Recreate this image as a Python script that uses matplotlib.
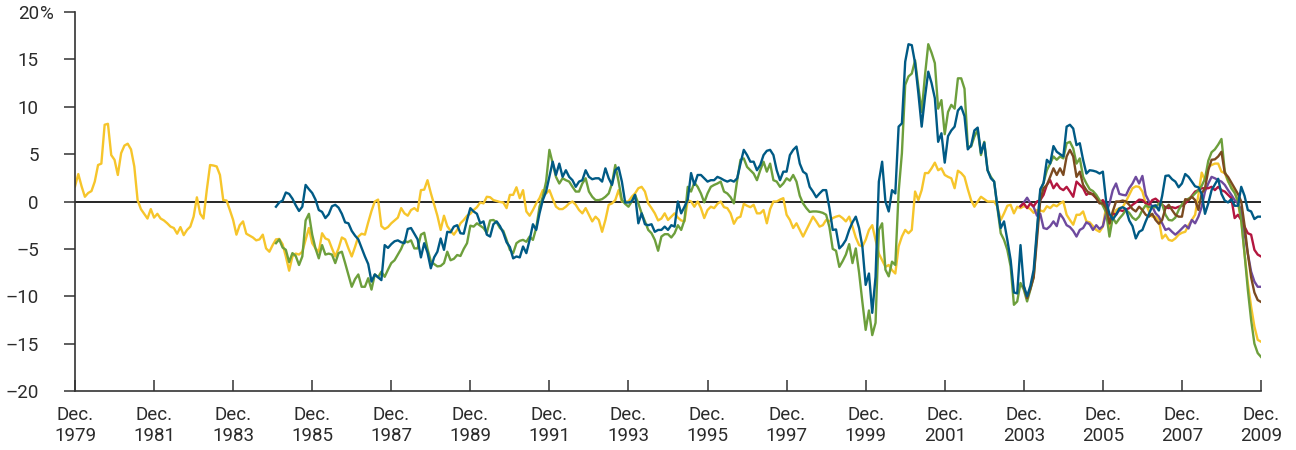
import matplotlib
matplotlib.use("Agg")
import matplotlib.pyplot as plt
import numpy as np

# ---- data: monthly values, month index 0 = Dec. 1979 ----
yellow_start = 0
yellow = [
    1.6, 2.9, 1.6, 0.5, 0.9, 1.1, 2.1, 3.85, 4.0, 8.1, 8.2, 4.9,
    4.4, 2.8, 5.1, 5.9, 6.1, 5.5, 3.7, 0.15, -0.8, -1.3, -1.8, -0.8,
    -1.7, -1.3, -1.8, -2.0, -2.3, -2.65, -2.8, -3.4, -2.7, -3.55, -3.0, -2.65,
    -1.6, 0.44, -1.3, -1.8, 1.2, 3.85, 3.8, 3.7, 2.8, 0.15, 0.1, -0.9,
    -1.95, -3.5, -2.5, -2.1, -3.4, -3.6, -3.8, -4.1, -4.0, -3.5, -4.95, -5.3,
    -4.6, -4.0, -3.95, -4.5, -5.8, -7.3, -5.8, -5.5, -5.6, -5.3, -4.05, -2.8,
    -4.4, -4.95, -5.3, -3.35, -3.9, -4.05, -4.95, -5.8, -4.95, -3.8, -4.0, -4.95,
    -5.8, -4.8, -3.7, -3.4, -3.5, -2.2, -1.0, 0.0, 0.2, -2.6, -2.9, -2.7,
    -2.3, -2.0, -1.7, -0.7, -1.25, -1.5, -0.9, -0.7, -1.0, 1.2, 1.25, 2.25,
    0.9, -0.3, -1.5, -3.0, -1.5, -2.6, -3.1, -3.5, -3.0, -2.3, -1.95, -1.5,
    -1.3, -0.9, -0.6, -0.1, -0.2, 0.5, 0.45, 0.15, 0.05, -0.05, -0.1, -0.7,
    0.7, 0.7, 1.5, 0.35, 1.2, -1.05, -1.5, -0.9, -0.2, 0.35, 1.2, 0.85,
    1.2, 0.3, -0.55, -0.8, -0.8, -0.55, -0.2, 0.0, -0.35, -0.9, -1.25, -0.7,
    -1.4, -2.1, -1.6, -1.95, -3.2, -1.95, -0.35, -0.2, 0.15, 1.2, 0.0, 0.0,
    0.0, 0.5, 0.85, 1.4, 1.55, 1.05, -0.2, -0.7, -1.25, -2.0, -1.8, -1.25,
    -1.95, -1.6, -1.25, -1.7, -2.0, -2.1, 0.15, 0.0, -0.55, 0.0, -0.7, -1.75,
    -0.9, -0.55, -0.7, -0.25, 0.0, -0.6, -0.7, -1.25, -2.35, -1.75, -1.6, -0.25,
    -0.45, -0.6, -0.35, -1.25, -1.25, -0.9, -2.3, -0.8, 0.0, 0.0, 0.2, 0.35,
    -1.4, -1.95, -2.8, -2.3, -3.0, -3.7, -3.0, -2.3, -1.6, -2.1, -2.65, -2.5,
    -1.95, -2.1, -1.75, -1.6, -1.5, -1.75, -2.1, -1.6, -2.65, -3.8, -4.6, -4.75,
    -4.05, -3.0, -2.5, -4.05, -5.5, -6.2, -6.9, -6.7, -7.25, -7.6, -4.75, -3.7,
    -3.0, -3.35, -3.0, 1.05, 0.15, 1.2, 3.0, 3.0, 3.5, 4.1, 3.3, 3.5,
    2.8, 2.6, 2.45, 1.4, 3.25, 3.0, 2.6, 1.3, 0.15, -0.55, 0.0, 0.5,
    0.25, 0.0, 0.0, 0.0, -0.55, -1.95, -1.25, -0.45, -0.35, -1.25, -0.55, -0.7,
    -0.5, -0.6, -0.8, -1.2, -0.9, -0.95, -1.05, -0.5, -0.7, -0.35, -0.5, -0.2,
    0.0, -1.4, -1.95, -2.45, -1.4, -1.4, -1.05, -2.1, -2.2, -2.6, -3.0, -3.2,
    -2.65, -0.5, -3.0, -1.6, -0.9, -0.7, -0.6, 0.0, 0.7, 1.4, 1.6, 1.55,
    1.05, -0.2, -1.05, -1.6, -1.6, -1.95, -3.9, -3.5, -4.05, -4.15, -3.9, -3.5,
    -3.3, -3.2, -2.5, -1.95, -1.4, 0.7, 3.05, 2.25, 3.65, 3.85, 4.0, 4.0,
    3.15, 3.0, 2.1, 1.55, 1.05, -0.2, -1.95, -5.5, -8.6, -11.1, -13.2, -14.6, -14.8,
]

blue_start = 61
blue = [
    -0.55, -0.1, 0.1, 0.95, 0.8, 0.3, -0.4, -1.0, -0.55, 1.75, 1.3, 0.9,
    0.2, -0.9, -1.1, -1.75, -1.35, -0.5, -0.35, -0.65, -1.3, -2.2, -2.3, -3.1,
    -3.6, -4.0, -4.9, -5.8, -6.6, -8.45, -7.7, -8.0, -8.3, -4.6, -4.9, -4.5,
    -4.2, -4.1, -4.3, -4.4, -2.9, -2.8, -3.4, -4.0, -5.9, -4.4, -5.4, -7.05,
    -5.9, -5.3, -3.9, -5.1, -3.2, -3.25, -2.65, -2.5, -3.35, -3.4, -1.95, -0.7,
    -1.05, -1.3, -2.3, -2.1, -3.5, -3.7, -2.4, -2.1, -2.6, -3.3, -4.3, -4.8,
    -6.0, -5.8, -5.9, -4.75, -5.45, -4.05, -2.4, -3.0, -1.25, 0.15, 1.05, 2.6,
    4.2, 2.8, 4.0, 2.6, 3.3, 2.6, 2.25, 1.55, 2.1, 2.25, 3.3, 2.6,
    2.35, 2.45, 2.45, 2.1, 3.5, 2.45, 1.75, 3.3, 3.6, 2.1, -0.1, -0.1,
    0.0, 0.7, -2.3, -1.25, -2.4, -2.5, -2.4, -3.2, -3.0, -3.0, -2.65, -3.0,
    -2.5, -2.65, 0.0, -1.25, -0.55, 0.2, 3.0, 1.75, 2.8, 2.8, 2.45, 2.1,
    2.25, 2.25, 2.6, 2.45, 2.25, 2.1, 2.25, 2.1, 2.45, 4.0, 5.45, 4.9,
    4.2, 4.2, 3.3, 3.85, 4.9, 5.35, 5.45, 4.9, 3.3, 2.25, 3.15, 3.15,
    4.9, 5.45, 5.8, 4.0, 3.15, 2.9, 1.55, 1.05, 0.45, 0.85, 1.2, 1.2,
    -0.7, -3.0, -2.95, -4.95, -4.6, -4.05, -3.0, -2.2, -1.6, -2.8, -4.75, -8.8,
    -7.6, -11.75, -7.95, 2.1, 4.2, 0.0, -1.05, 1.2, 0.85, 7.9, 8.25, 14.75,
    16.6, 16.5, 14.6, 11.4, 7.9, 11.0, 13.7, 12.5, 10.9, 6.3, 7.2, 4.1,
    6.9, 7.5, 7.9, 9.6, 10.0, 9.0, 5.5, 5.9, 7.5, 7.8, 5.1, 6.2,
    3.3, 2.45, 2.1, -0.55, -2.8, -2.1, -4.05, -6.15, -9.6, -9.7, -4.6, -8.9,
    -10.0, -8.9, -7.2, -3.0, 1.3, 1.95, 4.4, 4.0, 5.85, 5.25, 5.0, 4.75,
    7.9, 8.1, 7.7, 5.95, 6.15, 4.4, 2.95, 3.3, 3.25, 3.15, 2.95, 3.15,
    0.0, -1.3, -1.9, -1.4, -0.75, -0.6, -0.8, -2.0, -2.6, -3.9, -3.2, -3.0,
    -2.1, -1.3, -0.5, -0.4, -0.95, 0.6, 2.7, 2.75, 2.35, 2.1, 1.5, 1.9,
    2.9, 2.6, 2.1, 1.6, 1.5, 0.8, -1.3, -0.2, 1.2, 1.8, 2.4, 0.8,
    0.1, -0.1, 0.25, -0.45, -0.45, 1.55, 0.6, -0.9, -1.05, -1.85, -1.6, -1.6,
]

green_start = 61
green = [
    -4.4, -4.0, -4.85, -5.1, -6.4, -5.45, -5.75, -6.7, -5.8, -2.0, -1.3, -3.5,
    -4.95, -6.0, -4.6, -5.6, -5.5, -5.6, -6.5, -5.45, -5.3, -6.5, -7.75, -9.0,
    -8.2, -7.7, -9.0, -9.0, -8.1, -9.3, -7.7, -8.0, -7.4, -7.95, -7.2, -6.5,
    -6.2, -5.6, -5.0, -4.15, -4.3, -4.1, -4.95, -4.95, -3.5, -3.3, -5.0, -6.3,
    -6.6, -6.85, -6.8, -6.5, -5.3, -6.2, -6.05, -5.65, -5.75, -5.0, -4.4, -2.55,
    -2.65, -2.3, -2.55, -2.8, -3.3, -2.0, -1.95, -2.2, -2.8, -3.1, -4.05, -5.1,
    -5.45, -4.4, -4.15, -4.05, -4.25, -3.7, -4.05, -2.8, -0.55, 0.5, 2.1, 5.45,
    4.0, 2.6, 1.9, 2.45, 2.25, 2.1, 1.55, 1.05, 1.05, 1.9, 2.45, 1.05,
    0.5, 0.15, 0.15, 0.25, 0.5, 0.85, 1.9, 3.85, 2.1, 0.15, -0.25, -0.55,
    0.0, 0.7, -0.2, -1.25, -2.1, -3.0, -3.35, -4.05, -5.2, -3.7, -3.45, -3.45,
    -3.8, -3.35, -2.5, -3.0, -1.95, 1.55, 1.05, 2.0, 1.55, 0.85, -0.1, 0.85,
    1.55, 1.75, 1.9, 2.1, 1.05, 0.85, 0.45, -0.2, 2.25, 4.4, 4.55, 3.65,
    3.3, 2.95, 2.25, 3.3, 4.2, 3.15, 4.0, 2.25, 2.1, 1.55, 1.9, 2.45,
    2.2, 2.8, 2.1, 0.6, -0.2, -0.7, -1.1, -1.05, -1.05, -1.1, -1.2, -1.4,
    -2.7, -5.0, -5.2, -6.9, -6.3, -5.6, -4.5, -6.5, -4.95, -7.5, -10.6, -13.55,
    -11.5, -14.1, -12.8, -3.0, -2.3, -7.2, -7.9, -6.35, -6.7, 1.0, 5.1, 12.3,
    13.2, 13.5, 14.9, 12.1, 9.45, 13.3, 16.6, 15.7, 14.6, 9.8, 10.7, 7.1,
    9.45, 10.2, 9.8, 13.0, 13.0, 11.9, 5.8, 5.8, 6.85, 7.55, 4.9, 6.3,
    3.3, 2.6, 2.1, -0.7, -3.35, -4.05, -5.1, -6.85, -10.9, -10.55, -8.6, -9.3,
    -10.55, -9.3, -7.95, -3.35, 1.05, 2.0, 3.3, 4.0, 4.75, 4.4, 4.75, 4.55,
    6.15, 6.3, 5.6, 4.0, 4.55, 2.6, 1.9, 1.3, 1.1, 0.7, 0.15, -0.45,
    -1.15, -3.7, -1.7, -2.3, -1.8, -1.4, -0.9, -1.2, -1.7, -1.95, -1.6, -0.9,
    -0.4, -0.6, -0.6, -0.6, -0.2, -0.3, -1.4, -1.95, -2.0, -1.7, -0.9, -0.3,
    0.1, 0.3, 0.5, 0.85, 1.2, 1.65, 2.4, 4.3, 5.2, 5.5, 6.0, 6.6,
    3.2, 2.2, 1.4, 0.9, 0.1, -2.0, -5.5, -9.3, -12.5, -15.0, -16.0, -16.4,
]

red_start = 287
red = [
    -0.5, -0.2, -0.7, -0.2, -0.5, 0.0, 0.15, 0.7, 1.75, 2.25, 1.4, 1.9,
    1.4, 1.2, 1.55, 1.05, 0.5, 2.1, 1.75, 1.4, 0.7, 0.95, 0.7, 0.35,
    -0.1, 0.15, -0.35, -2.3, -1.25, -1.4, -0.9, -1.0, -0.85, -0.7, -0.35, -0.1,
    0.2, 0.15, -0.2, -0.35, 0.15, 0.3, 0.0, -0.35, -0.6, -0.7, -0.6, -0.7,
    -0.55, -0.45, -0.2, 0.15, 0.6, 1.05, 1.2, 1.4, 1.4, 1.4, 1.55, 1.2,
    1.55, 1.2, 1.05, 0.7, 0.35, -1.75, -1.4, -1.95, -2.65, -3.35, -3.5, -5.1,
    -5.6, -5.8,
]

purple_start = 287
purple = [
    -0.5, -0.1, 0.4, -0.2, -0.6, -1.5, -1.3, -2.8, -2.9, -2.6, -2.1, -2.6,
    -1.3, -1.8, -2.5, -2.7, -3.1, -3.7, -3.0, -2.8, -2.2, -2.4, -3.0, -2.5,
    -2.9, -2.6, -1.2, -0.2, 1.2, 1.9, 0.8, 0.7, 0.65, 1.4, 1.9, 2.6,
    1.9, 2.7, 0.7, 0.0, -0.55, -1.25, -1.6, -2.3, -3.0, -2.85, -3.2, -3.5,
    -3.2, -2.85, -2.5, -2.85, -1.95, -2.3, -1.6, -0.55, 1.05, 1.9, 2.6, 2.45,
    2.25, 2.1, 1.75, 1.2, 0.7, 0.15, -0.2, -0.9, -3.35, -5.5, -7.4, -8.45,
    -9.0, -9.0,
]

brown_start = 288
brown = [
    -9.0, -10.2, -9.2, -8.0, -4.0, 0.15, 1.4, 1.75, 2.6, 3.5, 2.8, 3.5,
    2.8, 4.75, 5.45, 4.75, 2.6, 3.15, 1.75, 1.2, 0.8, 0.8, 0.35, -0.2,
    -0.2, -0.7, -2.3, -1.05, 0.0, 0.0, 0.1, 0.0, -0.35, -0.8, -1.05, -0.55,
    -0.9, -1.4, -1.6, -1.3, -1.95, -2.35, -1.95, -0.7, -0.35, -0.9, -1.4, -1.6,
    -1.6, 0.25, 0.15, 0.5, 0.15, -0.9, 0.85, 1.4, 3.3, 4.4, 4.45, 4.75,
    5.25, 3.0, 2.6, 2.0, 1.4, 0.8, 0.0, -2.5, -5.5, -8.0, -9.6, -10.4,
    -10.6,
]

tick_years = list(range(1979, 2010, 2))
tick_labels = ["Dec.\n%d" % y for y in tick_years]
ytick_values = list(range(-20, 25, 5))
ytick_labels = [("\u2013%d" % -v) if v < 0 else str(v) for v in ytick_values]

# ---- styling ----
W, H = 1296, 450
plt.rcParams["font.family"] = ["Roboto", "DejaVu Sans"]
TXT = "#2b2b2b"
FS = 13.5

fig = plt.figure(figsize=(W / 100, H / 100), dpi=100)
left_px, right_px, top_px, bot_px = 75, 1261, 12, 391
ax = fig.add_axes([left_px / W, 1 - bot_px / H, (right_px - left_px) / W, (bot_px - top_px) / H])
ax.set_xlim(0, 360)
ax.set_ylim(-20, 20)

ax.axhline(0, color="black", lw=1.2, zorder=1)

series = [
    (yellow_start, yellow, "#F6C52B"),
    (purple_start, purple, "#6E4A9E"),
    (red_start, red, "#B3163F"),
    (green_start, green, "#6D9F3C"),
    (brown_start, brown, "#7B4A20"),
    (blue_start, blue, "#005A85"),
]
for z, (start, vals, col) in enumerate(series):
    x = np.arange(start, start + len(vals))
    ax.plot(x, vals, color=col, lw=1.7, zorder=2 + z, solid_joinstyle="round")

for s in ("top", "right"):
    ax.spines[s].set_visible(False)
for s in ("left", "bottom"):
    ax.spines[s].set_color("#333333")
    ax.spines[s].set_linewidth(1.2)

ax.set_yticks(ytick_values)
ax.set_yticklabels(ytick_labels)
ax.set_xticks(list(range(0, 361, 24)))
ax.set_xticklabels(tick_labels, linespacing=1.2)

ax.tick_params(axis="y", direction="out", length=8, width=1.1, color="#333333",
               pad=18, labelsize=FS, labelcolor=TXT)
ax.tick_params(axis="x", direction="in", length=8, width=1.1, color="#333333",
               pad=11, labelsize=FS, labelcolor=TXT)

fig.text(40 / W, 1 - 14 / H, "%", ha="left", va="center", fontsize=FS, color=TXT)

fig.savefig("out.png", dpi=100)
